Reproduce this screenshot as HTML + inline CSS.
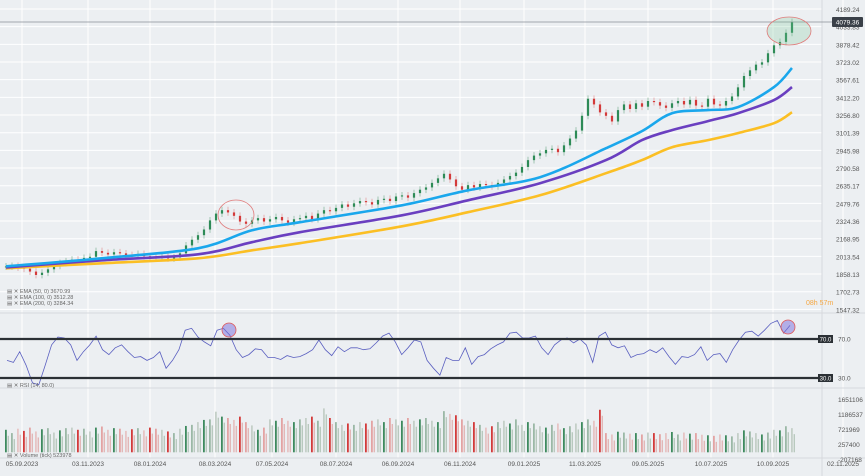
<!DOCTYPE html>
<html><head><meta charset="utf-8"><style>
html,body{margin:0;padding:0;background:#eceff2;}
svg{display:block;font-family:"Liberation Sans",sans-serif;}
</style></head><body>
<svg id="chart" width="865" height="476" viewBox="0 0 865 476">
<rect width="865" height="476" fill="#eceff2"/>
<g id="grid"></g><g id="main"></g><g id="rsi"></g><g id="vol"></g><g id="axes"></g>
</svg>
<script>
const closes=[1925,1930,1915,1905,1880,1850,1870,1900,1930,1955,1970,1985,1975,2000,2010,2060,2045,2030,2050,2040,2025,2020,2035,2015,2005,2000,2010,1995,2005,2040,2110,2160,2200,2250,2330,2390,2420,2400,2370,2320,2300,2330,2350,2320,2340,2360,2330,2310,2340,2350,2370,2340,2390,2420,2410,2440,2470,2450,2480,2500,2490,2470,2510,2520,2500,2540,2550,2530,2570,2600,2620,2660,2700,2740,2690,2630,2600,2640,2620,2650,2640,2630,2660,2690,2720,2750,2800,2860,2900,2920,2950,2960,2930,2990,3050,3120,3250,3400,3350,3280,3250,3200,3300,3350,3310,3360,3330,3380,3370,3340,3320,3360,3380,3350,3390,3340,3330,3400,3350,3340,3380,3420,3500,3600,3650,3700,3720,3800,3870,3900,3980,4075];
const volumes=[820,700,860,780,900,760,840,880,720,800,880,900,820,860,760,900,940,820,880,860,780,840,880,800,900,860,820,760,700,860,960,1000,1100,1180,1200,1480,1300,1250,1180,1300,1100,980,820,900,1200,1150,1250,1150,1100,1200,1250,1300,1150,1600,1250,1100,1000,1050,1000,1100,1050,1150,1200,1100,1250,1200,1150,1250,1150,1200,1250,1150,1100,1500,1400,1350,1200,1150,1100,1000,900,950,1100,1150,1050,1200,1000,1100,1050,950,900,1000,1050,880,950,1050,1100,1200,1150,1550,700,650,750,720,680,700,650,720,700,660,700,740,650,720,680,700,640,620,600,650,620,580,700,800,760,700,650,720,820,800,950,880];
const emaIdx=[0,16,32,41,49,66,77,89,100,106,111,117,122,128,131];
const ema50=[1926,1997,2085,2243,2314,2463,2595,2710,2965,3115,3273,3300,3326,3502,3670];
const ema100=[1917,1979,2032,2138,2226,2375,2507,2657,2860,3036,3124,3203,3273,3388,3502];
const ema200=[1909,1953,1997,2067,2129,2278,2402,2551,2745,2860,2974,3036,3098,3185,3282];
const rsiVals=[48,46,57,43,25,23,43,64,72,71,64,48,57,64,73,59,54,61,64,57,51,52,48,51,57,40,48,59,79,81,72,67,63,79,81,74,59,51,54,60,59,51,51,49,53,51,52,55,59,69,59,53,62,57,61,61,59,60,66,73,76,67,54,61,69,67,48,40,33,51,48,48,61,44,52,54,60,64,67,76,77,71,71,73,61,54,64,69,71,66,70,64,46,73,77,64,61,63,51,54,55,59,56,61,52,44,52,51,54,62,48,54,55,46,59,69,77,78,73,79,86,89,76,84];
const priceTicks=["4189.24","4033.83","3878.42","3723.02","3567.61","3412.20","3256.80","3101.39","2945.98","2790.58","2635.17","2479.76","2324.36","2168.95","2013.54","1858.13","1702.73","1547.32"];
const volTicks=["1651106","1186537","721969","257400","-207168"];
const volTickVals=[1651106,1186537,721969,257400,-207168];
const dateLabels=["05.09.2023","03.11.2023","08.01.2024","08.03.2024","07.05.2024","08.07.2024","06.09.2024","06.11.2024","09.01.2025","11.03.2025","09.05.2025","10.07.2025","10.09.2025","02.11.2025"];
const dateX=[22,88,150,215,272,336,398,460,524,585,648,711,773,843];

const NS="http://www.w3.org/2000/svg";
function mk(tag,attrs,parent){const e=document.createElementNS(NS,tag);for(const k in attrs)e.setAttribute(k,attrs[k]);parent.appendChild(e);return e;}
const xS=i=>6+i*(786/(closes.length-1));
const yP=p=>9+(4189.24-p)*(17.67/155.41);
const yR=v=>339+(70-v)*(39/40);
const yV=v=>452.3-v*1000/30971;
const G=document.getElementById('grid'),M=document.getElementById('main'),R=document.getElementById('rsi'),V=document.getElementById('vol'),A=document.getElementById('axes');

priceTicks.forEach((t,i)=>{const y=yP(parseFloat(t));
 const l=mk('line',{x1:0,x2:822,y1:y,y2:y,stroke:'#ffffff','stroke-width':1},G);
 
 
 const tx=mk('text',{x:836,y:y+3,'font-size':6.5,fill:'#555'},A);tx.textContent=t;
 
 
});
dateLabels.forEach((d,i)=>{
 const l=mk('line',{x1:dateX[i],x2:dateX[i],y1:0,y2:458,stroke:'#ffffff','stroke-width':1},G);
 
 
 const tx=mk('text',{x:dateX[i],y:466,'font-size':6.5,fill:'#555','text-anchor':'middle'},A);tx.textContent=d;
 
 
});
[313,388,458].forEach(y=>{const l=mk('line',{x1:0,x2:865,y1:y,y2:y,stroke:'#d6d9dd','stroke-width':1},G);
 
 });
const vs=mk('line',{x1:822,x2:822,y1:0,y2:476,stroke:'#d6d9dd','stroke-width':1},G);



// candles
closes.forEach((c,i)=>{const o=i?closes[i-1]:c;const up=c>=o;const col=up?'#2e8b57':'#d33a3a';
 const x=xS(i);const hi=Math.max(o,c)+30,lo=Math.min(o,c)-30;
 const w=mk('line',{x1:x,x2:x,y1:yP(hi),y2:yP(lo),stroke:up?'#8fb9a0':'#e4a0a0','stroke-width':0.8},M);
 
 
 const top=yP(Math.max(o,c)),bot=yP(Math.min(o,c));
 const r=mk('rect',{x:x-1.1,y:top,width:2.2,height:Math.max(1,bot-top),fill:col},M);
 
 
});
function smoothPath(pts){let d='M'+pts[0][0].toFixed(1)+' '+pts[0][1].toFixed(1);
 for(let i=0;i<pts.length-1;i++){const p0=pts[i-1]||pts[i],p1=pts[i],p2=pts[i+1],p3=pts[i+2]||p2;
  const c1=[p1[0]+(p2[0]-p0[0])/6,p1[1]+(p2[1]-p0[1])/6],c2=[p2[0]-(p3[0]-p1[0])/6,p2[1]-(p3[1]-p1[1])/6];
  d+=' C'+c1[0].toFixed(1)+' '+c1[1].toFixed(1)+' '+c2[0].toFixed(1)+' '+c2[1].toFixed(1)+' '+p2[0].toFixed(1)+' '+p2[1].toFixed(1);}
 return d;}
function emaLine(arr,col,name){const pts=arr.map((v,k)=>[xS(emaIdx[k]),yP(v)]);
 const p=mk('path',{d:smoothPath(pts),fill:'none',stroke:col,'stroke-width':2.6,'stroke-linejoin':'round'},M);
 
 }
emaLine(ema200,'#fbbf24','ema-200-line');
emaLine(ema100,'#6a3fc0','ema-100-line');
emaLine(ema50,'#1aa7ec','ema-50-line');

const rsiD=rsiVals.map((v,k)=>(k?'L':'M')+(7+k*(783/(rsiVals.length-1))).toFixed(1)+' '+yR(v).toFixed(1)).join(' ');
const rp=mk('path',{d:rsiD,fill:'none',stroke:'#5a5fc0','stroke-width':0.8},R);


[70,30].forEach(v=>{const y=yR(v);
 const l=mk('line',{x1:0,x2:822,y1:y,y2:y,stroke:'#2b3035','stroke-width':2.2},R);
 
 
 const b=mk('rect',{x:818,y:y-4,width:15,height:8,fill:'#2b3035'},R);
 
 
 const t=mk('text',{x:825.5,y:y+2.5,'font-size':6,fill:'#fff','text-anchor':'middle'},R);t.textContent=v.toFixed(1);
 
 
 const t2=mk('text',{x:838,y:y+2.5,'font-size':6.5,fill:'#555'},R);t2.textContent=v.toFixed(1);
 
 
});

volumes.forEach((v,i)=>{const o=i?closes[i-1]:closes[i];const up=closes[i]>=o;
 const shade=i%3;const col=up?['#3d8a5e','#9bb8a6','#c4cfc8'][shade]:['#d33a3a','#e3a3a3','#e6c4c4'][shade];
 const x=xS(i);const y=yV(v*0.85);
 const r=mk('rect',{x:x-1,y:y,width:1.8,height:452.3-y,fill:col},V);
 
 
 const r2=mk('rect',{x:x+1.6,y:y+6,width:1.4,height:Math.max(0,446.3-y),fill:up?'#b8c9be':'#e2b7b7'},V);
 
 
});
volTicks.forEach((t,i)=>{const tx=mk('text',{x:838,y:yV(volTickVals[i]/1000)+3,'font-size':6.5,fill:'#555'},A);tx.textContent=t;
 
 });
</script>
<svg width="865" height="476" style="position:absolute;left:0;top:0">
 <line x1="0" x2="834" y1="22" y2="22" stroke="#8a8f96" stroke-width="0.8"/>
 <rect x="832" y="17" width="31" height="10" rx="1" fill="#3a4048"/>
 <text x="847.5" y="24.5" font-size="6.5" fill="#fff" text-anchor="middle" font-family="Liberation Sans">4079.36</text>
 <ellipse cx="789" cy="31" rx="22" ry="14" fill="rgba(120,200,150,0.25)" stroke="#e07a7a" stroke-width="0.8"/>
 <ellipse cx="236" cy="215" rx="18" ry="15" fill="none" stroke="#e07a7a" stroke-width="0.8"/>
 <circle cx="229" cy="330" r="7" fill="rgba(120,110,220,0.5)" stroke="#e05a5a" stroke-width="0.8"/>
 <circle cx="788" cy="327" r="7" fill="rgba(120,110,220,0.5)" stroke="#e05a5a" stroke-width="0.8"/>
 <g font-family="Liberation Sans" font-size="5.5" fill="#666">
  <text x="7" y="293">▤ ✕ EMA (50, 0) 3670.99</text>
  <text x="7" y="299">▤ ✕ EMA (100, 0) 3512.28</text>
  <text x="7" y="305">▤ ✕ EMA (200, 0) 3284.34</text>
  <text x="7" y="387">▤ ✕ RSI (14, 80.0)</text>
  <text x="7" y="457">▤ ✕ Volume (tick) 523978</text>
 </g>
 <text x="806" y="305" font-family="Liberation Sans" font-size="7" fill="#f5a742">08h 57m</text>
</svg>
</body></html>
